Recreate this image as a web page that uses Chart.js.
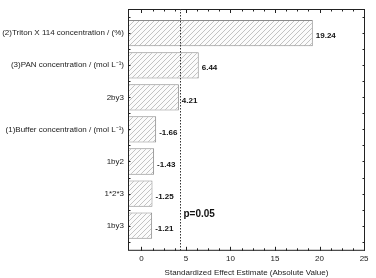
<!DOCTYPE html>
<html>
<head>
<meta charset="utf-8">
<script src="https://cdn.jsdelivr.net/npm/chart.js@4"></script>
<style>
  html, body { margin: 0; padding: 0; background: #fff; }
  #wrap { width: 376px; height: 278px; }
</style>
</head>
<body>
<div id="wrap"><canvas id="paretoChart"></canvas></div>
<script>
const factors = [
  '(2)Triton X 114 concentration / (%)',
  '(3)PAN concentration / (mol L\u207B\u00B9)',
  '2by3',
  '(1)Buffer concentration / (mol L\u207B\u00B9)',
  '1by2',
  '1*2*3',
  '1by3'
];
const effects = [19.24, 6.44, 4.21, 1.66, 1.43, 1.25, 1.21];
const effectLabels = ['19.24', '6.44', '4.21', '-1.66', '-1.43', '-1.25', '-1.21'];
const xTicks = [0, 5, 10, 15, 20, 25];
const pLimit = 4.3;
const pLabel = 'p=0.05';

const X_MIN = -1.5, X_MAX = 25.1;
const FONT = '"Liberation Sans", Arial, sans-serif';

// hatched fill like the original
const makeHatch = () => {
  const c = document.createElement('canvas');
  c.width = 5; c.height = 5;
  const g = c.getContext('2d');
  g.fillStyle = '#fbfbfb';
  g.fillRect(0, 0, 5, 5);
  g.strokeStyle = '#b4b4b4';
  g.lineWidth = 0.8;
  g.beginPath();
  g.moveTo(0, 5); g.lineTo(5, 0);
  g.moveTo(-1, 1); g.lineTo(1, -1);
  g.moveTo(4, 6); g.lineTo(6, 4);
  g.stroke();
  return g.createPattern(c, 'repeat');
};

const extras = {
  id: 'extras',
  afterDatasetsDraw(chart) {
    const { ctx, chartArea: a, scales: { x, y } } = chart;
    ctx.save();
    // frame
    ctx.strokeStyle = '#222';
    ctx.lineWidth = 1;
    ctx.strokeRect(a.left + 0.5, a.top + 0.5, a.right - a.left - 1, a.bottom - a.top - 1);
    // minor ticks
    ctx.beginPath();
    for (let v = 0; v <= 25.01; v += 1.25) {
      const px = Math.round(x.getPixelForValue(v)) + 0.5;
      const len = (v % 5 === 0) ? 4 : 2.5;
      ctx.moveTo(px, a.bottom); ctx.lineTo(px, a.bottom - len);
      ctx.moveTo(px, a.top); ctx.lineTo(px, a.top + len);
    }
    for (let v = -0.5; v <= 6.5; v += 0.5) {
      const py = Math.round(y.getPixelForValue(v)) + 0.5;
      ctx.moveTo(a.left, py); ctx.lineTo(a.left + 2.5, py);
      ctx.moveTo(a.right, py); ctx.lineTo(a.right - 2.5, py);
    }
    ctx.stroke();
    // significance line
    const lx = Math.round(x.getPixelForValue(pLimit)) + 0.5;
    ctx.setLineDash([1.5, 1.5]);
    ctx.strokeStyle = '#333';
    ctx.beginPath();
    ctx.moveTo(lx, a.top); ctx.lineTo(lx, a.bottom);
    ctx.stroke();
    ctx.setLineDash([]);
    ctx.fillStyle = '#111';
    ctx.font = 'bold 10px ' + FONT;
    ctx.textBaseline = 'middle';
    ctx.fillText(pLabel, lx + 3, y.getPixelForValue(5.65));
    // value labels
    ctx.font = 'bold 8px ' + FONT;
    const meta = chart.getDatasetMeta(0);
    meta.data.forEach((bar, i) => {
      ctx.fillText(effectLabels[i], bar.x + 3, bar.y + 3);
    });
    ctx.restore();
  }
};

new Chart(document.getElementById('paretoChart'), {
  type: 'bar',
  data: {
    datasets: [{
      data: effects.map((v, i) => ({ x: v, y: i })),
      base: X_MIN,
      backgroundColor: makeHatch(),
      borderColor: '#8a8a8a',
      borderWidth: 1,
      borderSkipped: false,
      barPercentage: 0.82,
      categoryPercentage: 1
    }]
  },
  plugins: [extras],
  options: {
    indexAxis: 'y',
    responsive: true,
    maintainAspectRatio: false,
    animation: false,
    layout: { padding: { top: 9, right: 11, left: 0, bottom: 0 } },
    plugins: { legend: { display: false }, tooltip: { enabled: false } },
    scales: {
      x: {
        type: 'linear',
        min: X_MIN,
        max: X_MAX,
        grid: { display: false, drawTicks: false },
        border: { display: false },
        afterBuildTicks: (s) => { s.ticks = xTicks.map(v => ({ value: v })); },
        ticks: {
          padding: 3,
          color: '#222',
          font: { family: FONT, size: 8 }
        },
        title: {
          display: true,
          text: 'Standardized Effect Estimate (Absolute Value)',
          color: '#222',
          padding: { top: 2, bottom: 0 },
          font: { family: FONT, size: 8 }
        }
      },
      y: {
        type: 'linear',
        reverse: true,
        offset: false,
        min: -0.755,
        max: 6.785,
        grid: { display: false, drawTicks: false },
        border: { display: false },
        afterBuildTicks: (s) => { s.ticks = factors.map((f, i) => ({ value: i })); },
        afterFit: (s) => { s.width = 128; },
        ticks: {
          padding: 4,
          color: '#222',
          font: { family: FONT, size: 8 },
          callback: (v) => factors[v] || ''
        }
      }
    }
  }
});
</script>
</body>
</html>
